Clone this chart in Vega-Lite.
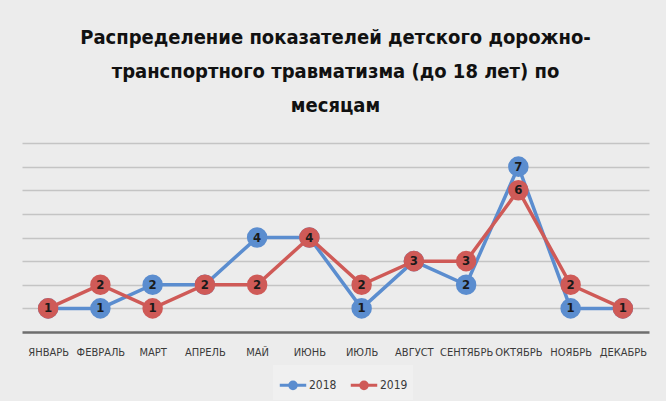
{
  "$schema": "https://vega.github.io/schema/vega-lite/v6.json",
  "width": 627,
  "height": 189,
  "autosize": "none",
  "padding": {"left": 22, "top": 143, "right": 17, "bottom": 69},
  "background": "#ececec",
  "title": {
    "text": ["Распределение показателей детского дорожно-", "транспортного травматизма (до 18 лет) по", "месяцам"],
    "font": "DejaVu Sans Condensed, sans-serif",
    "fontSize": 20,
    "fontWeight": "bold",
    "color": "#111111",
    "lineHeight": 34,
    "anchor": "middle",
    "offset": 27
  },
  "config": {
    "view": {"stroke": null},
    "font": "DejaVu Sans Condensed, sans-serif"
  },
  "data": {
    "values": [
      {"month": "ЯНВАРЬ", "year": "2018", "value": 1},
      {"month": "ФЕВРАЛЬ", "year": "2018", "value": 1},
      {"month": "МАРТ", "year": "2018", "value": 2},
      {"month": "АПРЕЛЬ", "year": "2018", "value": 2},
      {"month": "МАЙ", "year": "2018", "value": 4},
      {"month": "ИЮНЬ", "year": "2018", "value": 4},
      {"month": "ИЮЛЬ", "year": "2018", "value": 1},
      {"month": "АВГУСТ", "year": "2018", "value": 3},
      {"month": "СЕНТЯБРЬ", "year": "2018", "value": 2},
      {"month": "ОКТЯБРЬ", "year": "2018", "value": 7},
      {"month": "НОЯБРЬ", "year": "2018", "value": 1},
      {"month": "ДЕКАБРЬ", "year": "2018", "value": 1},
      {"month": "ЯНВАРЬ", "year": "2019", "value": 1},
      {"month": "ФЕВРАЛЬ", "year": "2019", "value": 2},
      {"month": "МАРТ", "year": "2019", "value": 1},
      {"month": "АПРЕЛЬ", "year": "2019", "value": 2},
      {"month": "МАЙ", "year": "2019", "value": 2},
      {"month": "ИЮНЬ", "year": "2019", "value": 4},
      {"month": "ИЮЛЬ", "year": "2019", "value": 2},
      {"month": "АВГУСТ", "year": "2019", "value": 3},
      {"month": "СЕНТЯБРЬ", "year": "2019", "value": 3},
      {"month": "ОКТЯБРЬ", "year": "2019", "value": 6},
      {"month": "НОЯБРЬ", "year": "2019", "value": 2},
      {"month": "ДЕКАБРЬ", "year": "2019", "value": 1}
    ]
  },
  "encoding": {
    "x": {
      "field": "month",
      "type": "nominal",
      "sort": null,
      "scale": {"type": "point", "padding": 0.5},
      "axis": {
        "title": null,
        "labelAngle": 0,
        "ticks": false,
        "domainColor": "#6e6e6e",
        "domainWidth": 2.5,
        "labelPadding": 14,
        "labelFontSize": 11,
        "labelColor": "#3a3a3a",
        "labelOverlap": false,
        "grid": false
      }
    },
    "y": {
      "field": "value",
      "type": "quantitative",
      "scale": {"domain": [0, 8], "nice": false},
      "axis": {
        "title": null,
        "labels": false,
        "ticks": false,
        "domain": false,
        "values": [1, 2, 3, 4, 5, 6, 7, 8],
        "gridColor": "#c4c4c4",
        "gridWidth": 1.5
      }
    }
  },
  "layer": [
    {
      "transform": [{"filter": "datum.year == '2018'"}],
      "mark": {"type": "line", "strokeWidth": 3.5, "color": "#5b8dcf"},
      "encoding": {
        "color": {
          "field": "year",
          "type": "nominal",
          "scale": {"domain": ["2018", "2019"], "range": ["#5b8dcf", "#cf5a57"]},
          "legend": {
            "title": null,
            "orient": "none",
            "legendX": 251,
            "legendY": 222,
            "direction": "horizontal",
            "symbolType": "M-1,0H1M-0.25,0a0.25,0.25 0 1,0 0.5,0a0.25,0.25 0 1,0 -0.5,0",
            "symbolSize": 700,
            "symbolStrokeWidth": 3,
            "labelFontSize": 12,
            "labelColor": "#3a3a3a",
            "columnPadding": 7,
            "labelOffset": 1,
            "fillColor": "#f0f0f0",
            "padding": 5,
            "encode": {"symbols": {"update": {"fill": {"scale": "color", "field": "value"}}}}
          }
        }
      }
    },
    {
      "transform": [{"filter": "datum.year == '2018'"}],
      "mark": {"type": "point", "filled": true, "shape": "circle", "size": 420, "opacity": 1, "color": "#5b8dcf"}
    },
    {
      "transform": [{"filter": "datum.year == '2018'"}],
      "mark": {"type": "text", "fontWeight": "bold", "fontSize": 13, "color": "#1a1a1a", "baseline": "middle"},
      "encoding": {"text": {"field": "value", "type": "quantitative"}}
    },
    {
      "transform": [{"filter": "datum.year == '2019'"}],
      "mark": {"type": "line", "strokeWidth": 3.5, "color": "#cf5a57"},
      "encoding": {"color": {"field": "year", "type": "nominal"}}
    },
    {
      "transform": [{"filter": "datum.year == '2019'"}],
      "mark": {"type": "point", "filled": true, "shape": "circle", "size": 420, "opacity": 1, "color": "#cf5a57"}
    },
    {
      "transform": [{"filter": "datum.year == '2019'"}],
      "mark": {"type": "text", "fontWeight": "bold", "fontSize": 13, "color": "#1a1a1a", "baseline": "middle"},
      "encoding": {"text": {"field": "value", "type": "quantitative"}}
    }
  ]
}
